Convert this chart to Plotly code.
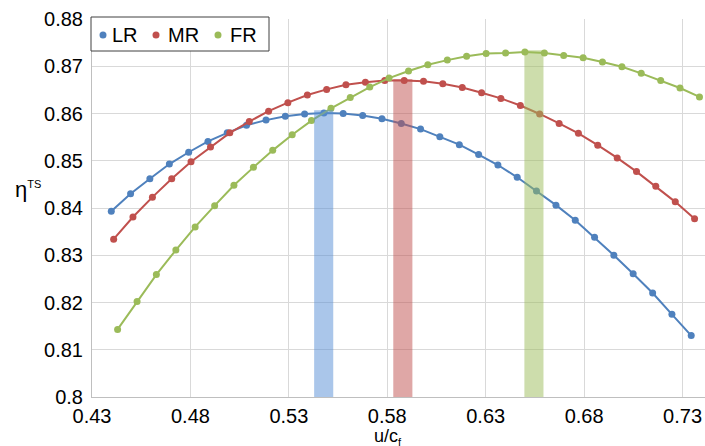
import plotly.graph_objects as go

# u/c_f sampling points for each rotor configuration
x_lr = [0.4398, 0.4496, 0.4594, 0.4693, 0.4791, 0.4889, 0.4987, 0.5085, 0.5184, 0.5282,
        0.5380, 0.5478, 0.5576, 0.5675, 0.5773, 0.5871, 0.5969, 0.6067, 0.6166, 0.6264,
        0.6362, 0.6460, 0.6558, 0.6657, 0.6755, 0.6853, 0.6951, 0.7049, 0.7148, 0.7246, 0.7344]
x_mr = [0.4410, 0.4508, 0.4607, 0.4705, 0.4803, 0.4902, 0.5000, 0.5099, 0.5197, 0.5295,
        0.5394, 0.5492, 0.5590, 0.5689, 0.5787, 0.5886, 0.5984, 0.6082, 0.6181, 0.6279,
        0.6377, 0.6476, 0.6574, 0.6673, 0.6771, 0.6869, 0.6968, 0.7066, 0.7164, 0.7263, 0.7361]
x_fr = [0.4430, 0.4529, 0.4627, 0.4726, 0.4824, 0.4923, 0.5021, 0.5120, 0.5218, 0.5317,
        0.5415, 0.5514, 0.5612, 0.5711, 0.5809, 0.5908, 0.6006, 0.6105, 0.6203, 0.6302,
        0.6401, 0.6499, 0.6598, 0.6696, 0.6795, 0.6893, 0.6992, 0.7090, 0.7189, 0.7287, 0.7386]

# total-to-static efficiency
eta_lr = [0.8393, 0.8430, 0.8462, 0.8493, 0.8518, 0.8541, 0.8559, 0.8575, 0.8586, 0.8594,
          0.8599, 0.8601, 0.8600, 0.8596, 0.8589, 0.8579, 0.8567, 0.8551, 0.8534, 0.8513,
          0.8491, 0.8465, 0.8436, 0.8406, 0.8374, 0.8338, 0.8300, 0.8261, 0.8220, 0.8175, 0.8130]
eta_mr = [0.8334, 0.8381, 0.8423, 0.8462, 0.8498, 0.8529, 0.8559, 0.8583, 0.8605, 0.8623,
          0.8639, 0.8651, 0.8661, 0.8666, 0.8670, 0.8670, 0.8668, 0.8663, 0.8655, 0.8644,
          0.8632, 0.8617, 0.8599, 0.8579, 0.8558, 0.8533, 0.8506, 0.8477, 0.8446, 0.8413, 0.8377]
eta_fr = [0.8143, 0.8202, 0.8259, 0.8311, 0.8360, 0.8405, 0.8448, 0.8486, 0.8522, 0.8555,
          0.8585, 0.8611, 0.8634, 0.8656, 0.8675, 0.8690, 0.8703, 0.8713, 0.8721, 0.8727,
          0.8728, 0.8730, 0.8728, 0.8723, 0.8718, 0.8709, 0.8699, 0.8685, 0.8670, 0.8654, 0.8635]

series_names = ["LR", "MR", "FR"]
series_colors = ["#4F81BD", "#C0504D", "#9BBB59"]

# optimum u/c_f bands (centre, top)
band_x = [0.5477, 0.5879, 0.6545]
band_top = [0.8607, 0.8673, 0.8734]
band_colors = ["rgba(85,142,213,0.5)", "rgba(192,80,77,0.5)", "rgba(155,187,89,0.5)"]
band_width = 0.0097

x_ticks = [0.43, 0.48, 0.53, 0.58, 0.63, 0.68, 0.73]
y_ticks = [0.80, 0.81, 0.82, 0.83, 0.84, 0.85, 0.86, 0.87, 0.88]
y_tick_text = ["0.8", "0.81", "0.82", "0.83", "0.84", "0.85", "0.86", "0.87", "0.88"]

FONT = "Liberation Sans, Arial, sans-serif"
X_RANGE = [0.43, 0.7414]
Y_RANGE = [0.80, 0.88]

fig = go.Figure()
for xs, ys, name, col in zip([x_lr, x_mr, x_fr], [eta_lr, eta_mr, eta_fr],
                             series_names, series_colors):
    fig.add_trace(go.Scatter(x=xs, y=ys, name=name, mode="lines+markers",
                             line=dict(color=col, width=2),
                             marker=dict(color=col, size=7),
                             showlegend=False))

# translucent bands drawn on an overlaid subplot so they sit above the curves
fig.add_trace(go.Bar(x=band_x, y=band_top, width=band_width,
                     marker=dict(color=band_colors, line=dict(width=0)),
                     xaxis="x2", yaxis="y2", showlegend=False))

grid = "#D9D9D9"
fig.update_layout(
    width=705, height=446,
    margin=dict(l=92, r=0, t=19, b=49),
    paper_bgcolor="white", plot_bgcolor="white",
    font=dict(family=FONT, size=20, color="black"),
    xaxis=dict(range=X_RANGE, tickmode="array", tickvals=x_ticks,
               ticktext=[f"{v:.2f}" for v in x_ticks],
               showgrid=True, gridcolor=grid, gridwidth=1,
               showline=True, linecolor="#BFBFBF", linewidth=1,
               zeroline=False, ticks="", ticklabelstandoff=1),
    yaxis=dict(range=Y_RANGE, tickmode="array", tickvals=y_ticks, ticktext=y_tick_text,
               showgrid=True, gridcolor=grid, gridwidth=1,
               showline=True, linecolor="#BFBFBF", linewidth=1,
               zeroline=False, ticks="", ticklabelstandoff=4),
    xaxis2=dict(range=X_RANGE, overlaying="x", visible=False),
    yaxis2=dict(range=Y_RANGE, overlaying="y", visible=False),
    showlegend=False,
)

# axis titles
fig.add_annotation(text="u/c<sub><span style='font-size:11px'>f</span></sub>",
                   xref="paper", yref="paper",
                   x=(388 - 92) / 613, y=-(436.5 - 397) / 378,
                   xanchor="center", yanchor="middle", showarrow=False,
                   font=dict(size=18))
fig.add_annotation(text="η<sup><span style='font-size:11px'>TS</span></sup>",
                   xref="paper", yref="paper",
                   x=(28 - 92) / 613, y=(397 - 190) / 378,
                   xanchor="center", yanchor="middle", showarrow=False,
                   font=dict(size=22))

# legend box with dot markers
def px_x(p):
    return (p - 92) / 613

def px_y(p):
    return (397 - p) / 378

fig.add_shape(type="rect", xref="paper", yref="paper",
              x0=px_x(91), x1=px_x(269), y0=px_y(51), y1=px_y(17),
              line=dict(color="#404040", width=1), fillcolor="white", layer="above")
dot_px = [103, 156, 218]
text_px = [110, 166, 228]
for name, col, dx, tx in zip(series_names, series_colors, dot_px, text_px):
    fig.add_shape(type="circle", xref="paper", yref="paper",
                  xsizemode="pixel", ysizemode="pixel",
                  xanchor=px_x(dx), yanchor=px_y(35),
                  x0=-3.5, x1=3.5, y0=-3.5, y1=3.5,
                  fillcolor=col, line=dict(width=0), layer="above")
    fig.add_annotation(text=name, xref="paper", yref="paper",
                       x=px_x(tx), y=px_y(35), xanchor="left", yanchor="middle",
                       showarrow=False, font=dict(size=20))

fig.write_html("out.html")
